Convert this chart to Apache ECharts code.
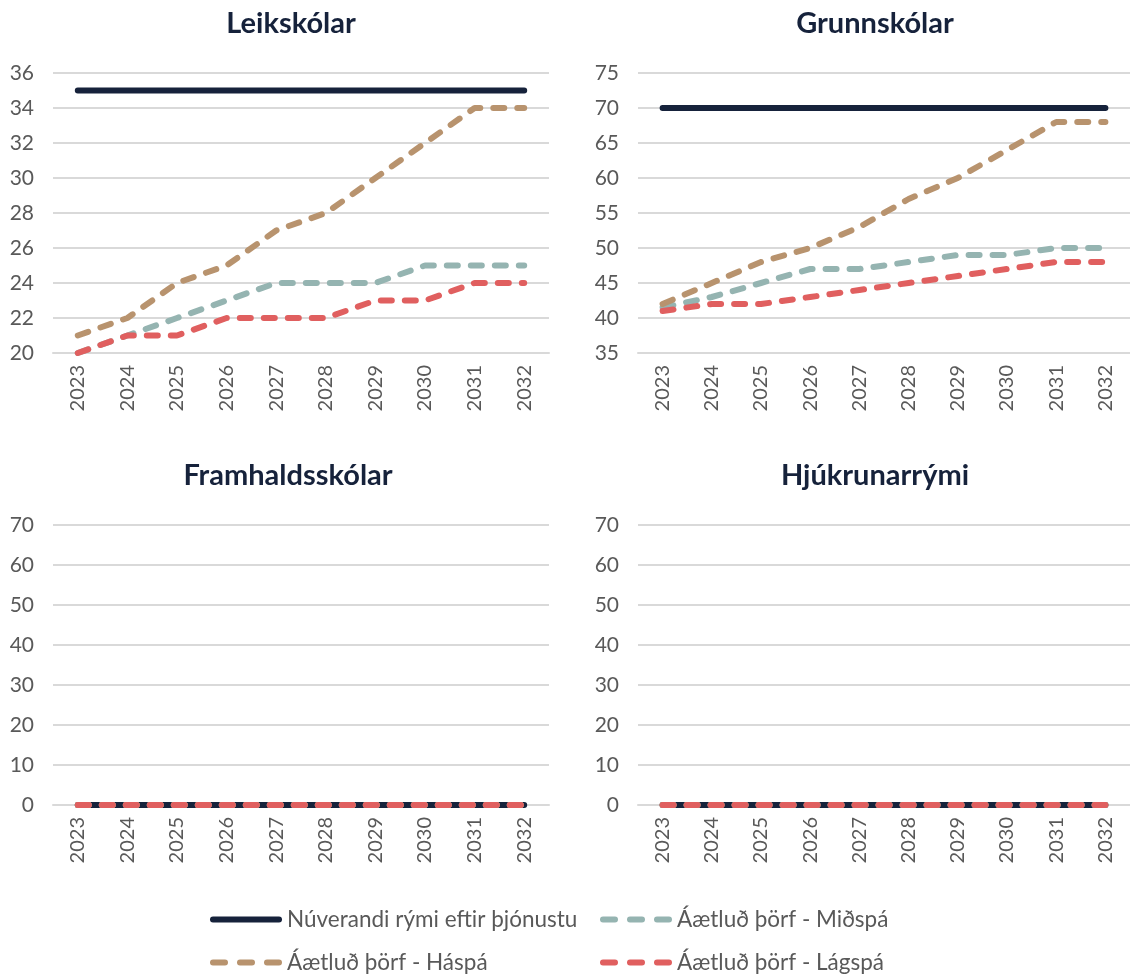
<!DOCTYPE html>
<html>
<head>
<meta charset="utf-8">
<script src="https://cdn.jsdelivr.net/npm/echarts@6/dist/echarts.min.js"></script>
<style>html,body{margin:0;padding:0;background:#fff}#c{width:1130px;height:979px}</style>
</head>
<body>
<div id="c"></div>
<script>
const years = ['2023','2024','2025','2026','2027','2028','2029','2030','2031','2032'];
const panelTitles = ['Leikskólar','Grunnskólar','Framhaldsskólar','Hjúkrunarrými'];
const seriesNames = ['Núverandi rými eftir þjónustu','Áætluð þörf - Miðspá','Áætluð þörf - Háspá','Áætluð þörf - Lágspá'];

const leikNuverandi = [35,35,35,35,35,35,35,35,35,35];
const leikMidspa    = [20,21,22,23,24,24,24,25,25,25];
const leikHaspa     = [21,22,24,25,27,28,30,32,34,34];
const leikLagspa    = [20,21,21,22,22,22,23,23,24,24];

const grunnNuverandi = [70,70,70,70,70,70,70,70,70,70];
const grunnMidspa    = [41.5,43,45,47,47,48,49,49,50,50];
const grunnHaspa     = [42,45,48,50,53,57,60,64,68,68];
const grunnLagspa    = [41,42,42,43,44,45,46,47,48,48];

const framNuverandi = [0,0,0,0,0,0,0,0,0,0];
const framMidspa    = [0,0,0,0,0,0,0,0,0,0];
const framHaspa     = [0,0,0,0,0,0,0,0,0,0];
const framLagspa    = [0,0,0,0,0,0,0,0,0,0];

const hjukNuverandi = [0,0,0,0,0,0,0,0,0,0];
const hjukMidspa    = [0,0,0,0,0,0,0,0,0,0];
const hjukHaspa     = [0,0,0,0,0,0,0,0,0,0];
const hjukLagspa    = [0,0,0,0,0,0,0,0,0,0];

const yRanges = [[20,36,2],[35,75,5],[0,70,10],[0,70,10]];

const panelData = [
  [leikNuverandi, leikMidspa, leikHaspa, leikLagspa],
  [grunnNuverandi, grunnMidspa, grunnHaspa, grunnLagspa],
  [framNuverandi, framMidspa, framHaspa, framLagspa],
  [hjukNuverandi, hjukMidspa, hjukHaspa, hjukLagspa]
];

const colors = ['#16223B','#95B4B1','#B8936E','#E05F5F'];
const FONT = 'Lato';
const grids = [
  {left:53, top:73, width:496, height:280},
  {left:638, top:73, width:494, height:280},
  {left:53, top:525, width:496, height:280},
  {left:638, top:525, width:494, height:280}
];
const titleCenters = [[286,4],[870,4],[283,456],[870,456]];

const solidIcon = 'path://M3,0 H69 A3,3 0 0 1 69,6 H3 A3,3 0 0 1 3,0 Z';
const dashIcon = 'path://M3,0 H15 A3,3 0 0 1 15,6 H3 A3,3 0 0 1 3,0 Z M30,0 H42 A3,3 0 0 1 42,6 H30 A3,3 0 0 1 30,0 Z M57,0 H69 A3,3 0 0 1 69,6 H57 A3,3 0 0 1 57,0 Z';

const option = {
  animation:false,
  backgroundColor:'#fff',
  title: panelTitles.map((t,i)=>({
    text:t, left:titleCenters[i][0], top:titleCenters[i][1], textAlign:'center',
    textStyle:{fontFamily:FONT, fontWeight:'bold', fontSize:29, color:'#16223B'}
  })),
  grid: grids,
  xAxis: grids.map((g,i)=>({
    type:'category', gridIndex:i, data:years, boundaryGap:true,
    axisLine:{show:true, lineStyle:{color:'#D9D9D9', width:2}},
    axisTick:{show:false},
    axisLabel:{rotate:90, fontFamily:FONT, fontSize:20, color:'#595959', margin:12}
  })),
  yAxis: grids.map((g,i)=>({
    type:'value', gridIndex:i, min:yRanges[i][0], max:yRanges[i][1], interval:yRanges[i][2],
    axisLine:{show:false}, axisTick:{show:false},
    splitLine:{lineStyle:{color:'#D9D9D9', width:2}},
    axisLabel:{fontFamily:FONT, fontSize:21, color:'#595959', margin:19}
  })),
  legend: [
    {data:[seriesNames[0]], left:210, top:908, icon:solidIcon},
    {data:[seriesNames[1]], left:600, top:908, icon:dashIcon},
    {data:[seriesNames[2]], left:210, top:951, icon:dashIcon},
    {data:[seriesNames[3]], left:600, top:951, icon:dashIcon}
  ].map(l=>Object.assign(l,{
    itemWidth:72, itemHeight:6, itemGap:10, padding:0,
    itemStyle:{borderWidth:0},
    textStyle:{fontFamily:FONT, fontSize:22.5, color:'#595959', padding:[0,0,0,0]},
    selectedMode:false
  })),
  series: []
};

panelData.forEach((arr,pi)=>{
  arr.forEach((vals,si)=>{
    option.series.push({
      type:'line', name:seriesNames[si], xAxisIndex:pi, yAxisIndex:pi,
      data:vals, symbol:'none', smooth:false,
      z: 2+si,
      lineStyle: si===0
        ? {color:colors[si], width:6, cap:'round', type:'solid'}
        : {color:colors[si], width:6, cap:'round', type:[11,13]},
      itemStyle:{color:colors[si]}
    });
  });
});

const chart = echarts.init(document.getElementById('c'), null, {renderer:'canvas'});
chart.setOption(option);
</script>
</body>
</html>
